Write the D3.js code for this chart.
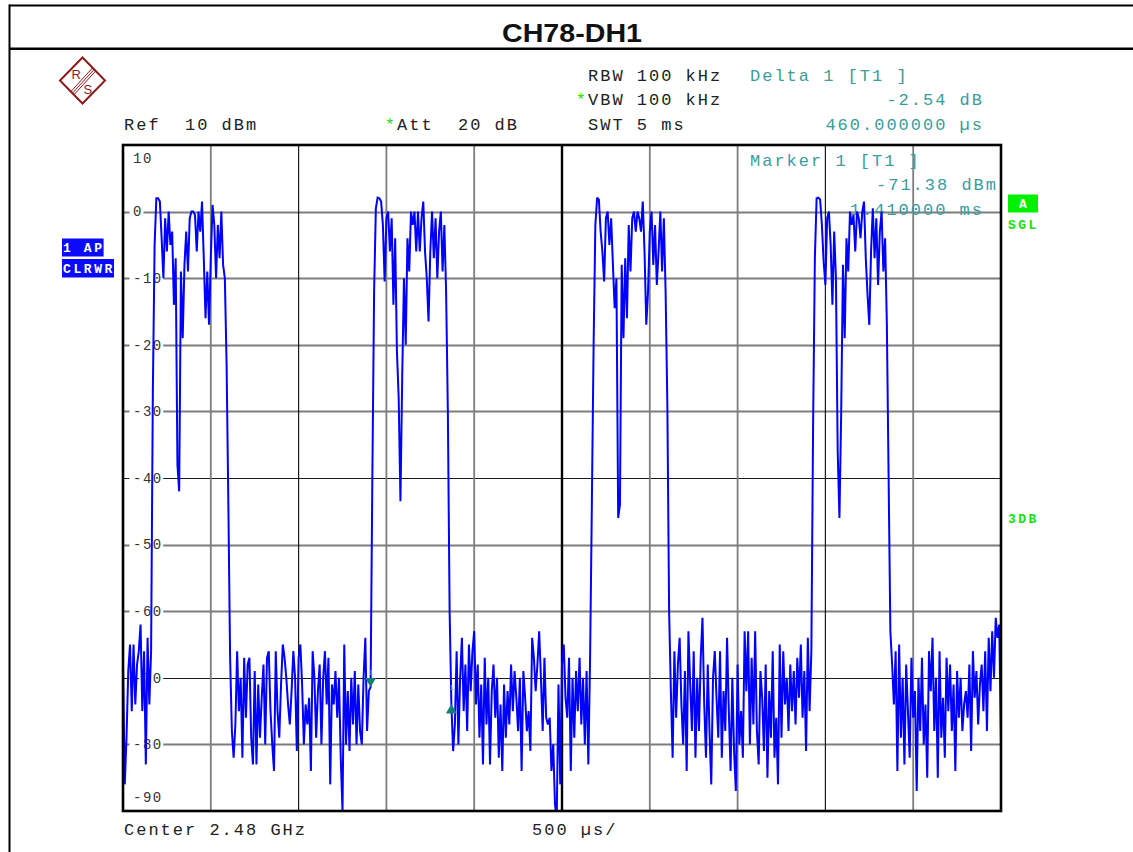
<!DOCTYPE html>
<html><head><meta charset="utf-8">
<script src="https://cdn.jsdelivr.net/npm/d3@7"></script>
<style>
body{margin:0;background:#fff;}
svg{display:block;}
text{white-space:pre;}
</style></head><body>
<svg id="c" width="1133" height="852"></svg>
<script>
// ---------------- data ----------------
const chartTitle = "CH78-DH1";
const sweepMs = 5;          // SWT 5 ms, 10 divisions of 500 µs
const stepMs = 0.01;        // 501 trace points
const refLevel = 10, bottomLevel = -90;
const yTicks = [10, 0, -10, -20, -30, -40, -50, -60, -70, -80, -90];
const xGrid = [0, 0.5, 1, 1.5, 2, 2.5, 3, 3.5, 4, 4.5, 5];

// trace (dBm), split in segments: noise / burst / noise ...
const noiseA = [-68,-86,-79,-69,-65,-75,-65,-74,-68,-66,-62,-75,-66,-83,-64,-74,-66];
const burst1 = [-27,-5,2,2,1.5,-4,-10,-1,-6,0,-5,-3,-14,-7,-38,-42,-9,-19,-8,-3,-9,-1,0,0,-0.5,-6,0,-3,1.5,-7,-16,-9,-17,-7,1,-2,-10,-2,-7,0,-8,-10,-23,-44,-67];
const noiseB = [-78,-82,-77,-66,-75,-70,-82,-67,-76,-68,
  -67,-79,-83,-69,-83,-71,-79,-73,-68,-80,
  -67,-66,-75,-80,-84,-66,-75,-79,-71,-65,
  -67,-70,-74,-77,-72,-66,-70,-81,-67,-65,
  -71,-80,-74,-77,-73,-84,-66,-70,-79,-72,
  -68,-80,-70,-66,-74,-67,-86,-71,-74,-69,
  -76,-70,-82,-90,-65,-80,-72,-81,-70,-77,
  -69,-80,-71,-78,-80,-70,-64,-78,-72,-71.38];
const burst2 = [-40,-12,0.5,2.1,2,1.5,-2,-10.5,-1,0,-6,-1,-14,-4,-21,-28,-43.5,-25,-10,-20,-4,-9,0,-2,0,-6,0,-6,-1,1.5,-6,-10,-16.5,-6,0,-7,-1,-10,-3,0,-9,-2,-12,-30,-60];
const noiseC = [-73.92,-81,-77,-66,-80,-70,-64,-75,-68,-78,
  -65,-72,-66,-63,-74,-68,-79,-71,-83,-67,
  -77,-70,-83,-72,-68,-76,-70,-82,-74,-84,
  -71,-79,-72,-77,-68,-75,-69,-73,-78,-70,
  -84,-69,-73,-78,-75,-81,-64,-67,-72,-68,
  -63,-70,-78,-67,-76,-77,-76,-84,-80,-89,
  -91,-71,-86,-68,-65,-73,-76,-67,-84,-70,
  -79,-69,-75,-67,-77,-70,-80,-69,-83,-67];
const burst3 = [-44,-20,-2,2.1,1.8,-3,-6,-10.5,-1,0,-5,-1,-8,-14.5,-10,-46,-44,-8,-19,-7,-16,-2,-9,-1,0,-3,0,-1,-3,1.5,-6,-17,-12,-3,0,-8,-2,-11,-6,0,-9,-1,-12,-29,-60];
const noiseD = [-72,-82,-66,-76,-68,-64,-74,-80,-69,-84,
  -63,-71,-78,-66,-82,-70,-78,-67,-61,-74,
  -82,-68,-78,-86,-70,-66,-73,-79,-66,-82,
  -72,-78,-64,-75,-84,-70,-81,-87,-68,-80,
  -75,-82,-63,-72,-63,-80,-67,-77,-63,-78,
  -83,-69,-73,-81,-68,-85,-72,-79,-66,-82,
  -76,-86,-65,-79,-66,-74,-70,-78,-68,-75,
  -69,-77,-67,-73,-65,-76,-69,-81,-64,-75,
  -66];
const burst4 = [-32,-7,2,2.1,1.8,-2,-7.5,-11,-1,0,-5,-14,-3,-10,-36,-46,-30,-8,-19,-4,-9,0,-2,-0.5,-6,0,-1,-4,0,1.5,-7,-12.5,-17,-6,0.5,-7,-1,-11,-3,0,-9,-4,-17,-40,-63];
const noiseE = [-68,-74,-66,-84,-65,-79,-70,-83,-68,-75,
  -82,-67,-76,-72,-87,-70,-78,-67,-80,-74,
  -85,-66,-72,-64,-78,-70,-85,-66,-79,-73,
  -82,-67,-75,-68,-78,-71,-84,-69,-76,-70,
  -78,-74,-72,-76,-68,-81,-66,-73,-69,-77,
  -71,-68,-75,-66,-78,-64,-72,-63,-70,-61,
  -64,-62,-80];

const marker1 = {label: "1", t: 1.41, v: -71.38};
const delta1  = {label: "1", t: 1.87, v: -73.92};

const headerLines = ["RBW 100 kHz", "*VBW 100 kHz", "SWT 5 ms"];
const refText = "Ref  10 dBm";
const attText = "*Att  20 dB";
const deltaTexts = ["Delta 1 [T1 ]", "-2.54 dB", "460.000000 µs"];
const markerTexts = ["Marker 1 [T1 ]", "-71.38 dBm", "1.410000 ms"];
const footerLeft = "Center 2.48 GHz";
const footerMid = "500 µs/";
const leftBoxes = ["1 AP", "CLRWR"];
const rightTags = {box: "A", mode: "SGL", extra: "3DB"};

// ---------------- drawing ----------------
const trace = [].concat(noiseA, burst1, noiseB, burst2, noiseC, burst3, noiseD, burst4, noiseE);
const svg = d3.select("#c");
const L = 123, R = 1001, T = 145, B = 811;
const x = d3.scaleLinear().domain([0, sweepMs]).range([L, R]);
const y = d3.scaleLinear().domain([refLevel, bottomLevel]).range([T, B]);

const MONO = "'Liberation Mono','DejaVu Sans Mono',monospace";
function mono(g, px, py, str, opt = {}) {
  const size = opt.size || 17, pitch = opt.pitch || 12.2;
  const t = g.append("text").attr("x", px).attr("y", py)
    .attr("xml:space", "preserve")
    .attr("font-family", MONO).attr("font-size", size)
    .attr("font-weight", opt.bold ? "bold" : "normal")
    .style("letter-spacing", (pitch - 0.6 * size) + "px")
    .style("white-space", "pre")
    .attr("fill", opt.color || "#222");
  if (str.startsWith("*")) {
    t.append("tspan").attr("fill", "#22dd22").text("*");
    t.append("tspan").text(str.slice(1));
  } else t.text(str);
  return t;
}
function monoEnd(g, pxEnd, py, str, opt = {}) {
  const pitch = opt.pitch || 12.2, size = opt.size || 17;
  return mono(g, pxEnd - str.length * pitch + (pitch - 0.6 * size), py, str, opt);
}

// page frame
svg.append("line").attr("x1", 9).attr("x2", 1133).attr("y1", 5.5).attr("y2", 5.5).attr("stroke", "#000").attr("stroke-width", 2);
svg.append("line").attr("x1", 9).attr("x2", 1133).attr("y1", 48.8).attr("y2", 48.8).attr("stroke", "#000").attr("stroke-width", 2.4);
svg.append("line").attr("x1", 9.5).attr("x2", 9.5).attr("y1", 4.5).attr("y2", 852).attr("stroke", "#000").attr("stroke-width", 2);

svg.append("text").attr("x", 572).attr("y", 41.5).attr("text-anchor", "middle")
  .attr("font-family", "'Liberation Sans',Arial,sans-serif").attr("font-weight", "bold")
  .attr("font-size", 26).attr("textLength", 140).attr("lengthAdjust", "spacingAndGlyphs")
  .attr("fill", "#111").text(chartTitle);

// R&S logo
const logo = svg.append("g").attr("transform", "translate(82.5,80.5)");
const red = "#8e1b1b";
logo.append("path").attr("d", "M0,-23 L22.5,0 L0,23 L-22.5,0 Z").attr("fill", "none").attr("stroke", red).attr("stroke-width", 2);
logo.append("clipPath").attr("id", "dia").append("path").attr("d", "M0,-23 L22.5,0 L0,23 L-22.5,0 Z");
[-2.2, 0, 2.2].forEach(o => {
  logo.append("line").attr("clip-path", "url(#dia)")
    .attr("x1", -14 + o * 0.75).attr("y1", 17 + o * 0.67).attr("x2", 17 + o * 0.75).attr("y2", -17 + o * 0.67)
    .attr("stroke", red).attr("stroke-width", 1);
});
logo.append("text").attr("x", -11).attr("y", -2).attr("font-family", "'Liberation Sans',Arial,sans-serif").attr("font-size", 13).attr("fill", red).text("R");
logo.append("text").attr("x", 1).attr("y", 13).attr("font-family", "'Liberation Sans',Arial,sans-serif").attr("font-size", 13).attr("fill", red).text("S");

// header texts
const TEAL = "#3a9c9c";
mono(svg, 588, 80.5, headerLines[0]);
mono(svg, 575.8, 105, headerLines[1]);
mono(svg, 588, 130, headerLines[2]);
mono(svg, 750, 80.5, deltaTexts[0], {color: TEAL});
monoEnd(svg, 982, 105, deltaTexts[1], {color: TEAL});
monoEnd(svg, 982, 130, deltaTexts[2], {color: TEAL});
mono(svg, 124, 130, refText);
mono(svg, 384.8, 130, attText);

// footer
mono(svg, 124, 835, footerLeft);
mono(svg, 532, 835, footerMid);

// left boxes
const BLUE = "#0a0aff";
svg.append("rect").attr("x", 62).attr("y", 238.5).attr("width", 41.6).attr("height", 18).attr("fill", BLUE);
svg.append("rect").attr("x", 62).attr("y", 259).attr("width", 52).attr("height", 18.5).attr("fill", BLUE);
mono(svg, 63, 252, leftBoxes[0], {bold: true, size: 13, pitch: 10.4, color: "#fff"});
mono(svg, 63, 273, leftBoxes[1], {bold: true, size: 13, pitch: 10.4, color: "#fff"});

// right tags
const GREEN = "#00f000";
svg.append("rect").attr("x", 1008).attr("y", 194.5).attr("width", 30).attr("height", 18).attr("fill", GREEN);
svg.append("text").attr("x", 1023).attr("y", 208).attr("text-anchor", "middle").attr("font-family", MONO)
  .attr("font-weight", "bold").attr("font-size", 13).attr("fill", "#fff").text(rightTags.box);
mono(svg, 1008, 228.5, rightTags.mode, {bold: true, size: 13, pitch: 10.2, color: "#11e011"});
mono(svg, 1008, 523, rightTags.extra, {bold: true, size: 13, pitch: 10.2, color: "#11e011"});

// plot area
const plot = svg.append("g");
const darkY = [-40, -70], darkX = [1, 4];
yTicks.filter(v => v < refLevel && v > bottomLevel).forEach(v => {
  const dark = darkY.includes(v);
  plot.append("line").attr("x1", L).attr("x2", R).attr("y1", Math.round(y(v)) + 0.5).attr("y2", Math.round(y(v)) + 0.5)
    .attr("stroke", dark ? "#1a1a1a" : "#7d7d7d").attr("stroke-width", dark ? 1.2 : 1.8);
});
xGrid.filter(t => t > 0 && t < sweepMs).forEach(t => {
  const center = t === sweepMs / 2;
  const dark = darkX.includes(t);
  plot.append("line").attr("x1", x(t)).attr("x2", x(t)).attr("y1", T).attr("y2", B)
    .attr("stroke", center ? "#000" : (dark ? "#1a1a1a" : "#7d7d7d"))
    .attr("stroke-width", center ? 2.4 : (dark ? 1.2 : 1.8));
});

// y tick labels
yTicks.forEach(v => {
  const str = String(v);
  let base;
  if (v === refLevel) base = y(v) + 17.5;
  else if (v === bottomLevel) base = y(v) - 9;
  else base = y(v) + 4.8;
  if (v !== refLevel && v !== bottomLevel) {
    plot.append("rect").attr("x", 129.5).attr("y", y(v) - 6).attr("width", 4 + str.length * 9.9).attr("height", 12).attr("fill", "#fff");
  }
  mono(plot, 133, base, str, {size: 14, pitch: 9.9, color: "#333"});
});

// marker readout inside plot
mono(plot, 750, 166, markerTexts[0], {color: TEAL});
monoEnd(plot, 996, 190, markerTexts[1], {color: TEAL});
monoEnd(plot, 982, 214.5, markerTexts[2], {color: TEAL});

// trace
plot.append("clipPath").attr("id", "pc").append("rect").attr("x", L).attr("y", T).attr("width", R - L).attr("height", B - T);
const line = d3.line().x((d, i) => x(i * stepMs)).y(d => y(d)).curve(d3.curveLinear);
plot.append("path").datum(trace).attr("clip-path", "url(#pc)").attr("d", line)
  .attr("fill", "none").attr("stroke", "#0000ff").attr("stroke-width", 2).attr("stroke-linejoin", "miter").attr("stroke-miterlimit", 2);

// markers
const MK = "#13806c";
const m1x = x(marker1.t), m1y = y(marker1.v);
plot.append("path").attr("d", `M${m1x - 5.5},${m1y - 9} L${m1x + 5.5},${m1y - 9} L${m1x},${m1y} Z`).attr("fill", MK);
plot.append("text").attr("x", m1x).attr("y", m1y - 12).attr("text-anchor", "middle").attr("font-family", MONO).attr("font-size", 8).attr("fill", "#5fb0a0").text(marker1.label);
const d1x = x(delta1.t), d1y = y(delta1.v);
plot.append("path").attr("d", `M${d1x - 5.5},${d1y + 9.5} L${d1x + 5.5},${d1y + 9.5} L${d1x},${d1y} Z`).attr("fill", MK);
plot.append("text").attr("x", d1x).attr("y", d1y - 14).attr("text-anchor", "middle").attr("font-family", MONO).attr("font-size", 8).attr("fill", "#5fb0a0").text(delta1.label);

// frame
plot.append("rect").attr("x", L).attr("y", T).attr("width", R - L).attr("height", B - T)
  .attr("fill", "none").attr("stroke", "#000").attr("stroke-width", 2.6);
</script>
</body></html>
